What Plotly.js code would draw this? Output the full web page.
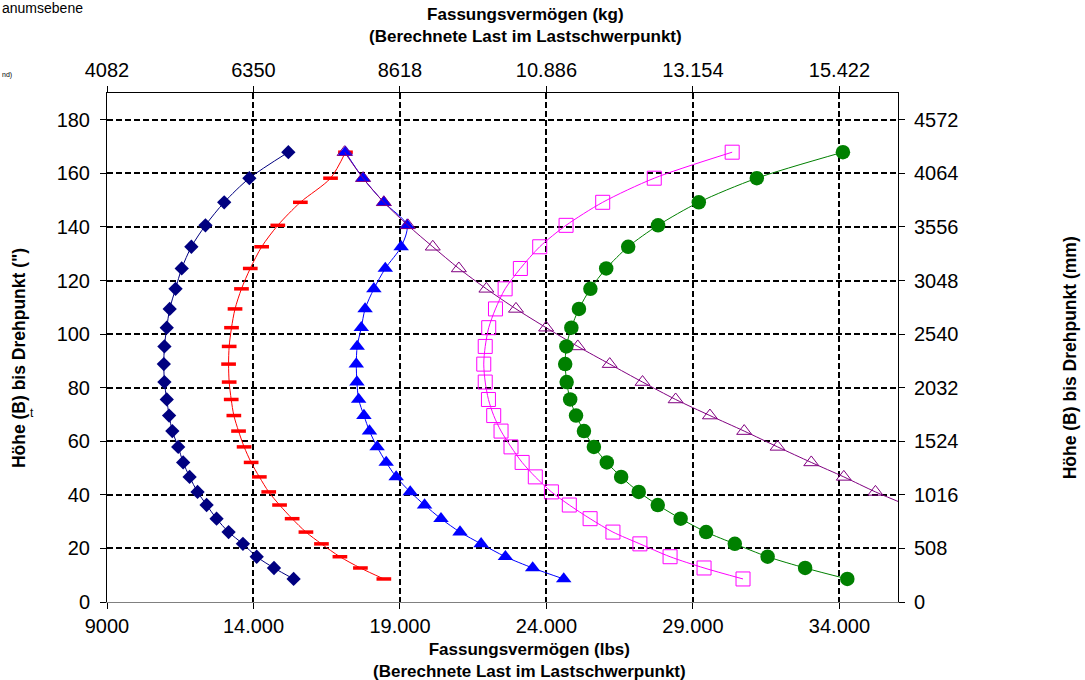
<!DOCTYPE html>
<html>
<head>
<meta charset="utf-8">
<script src="https://cdn.plot.ly/plotly-3.0.1.min.js"></script>
<style>html,body{margin:0;padding:0;background:#fff;}#chart{width:1085px;height:680px;}</style>
</head>
<body>
<div id="chart"></div>
<script>
// Heights (B) to pivot point, inches
const heights = [167.9, 158.2, 149.2, 140.6, 132.6, 124.5, 116.9, 109.4, 102.4, 95.4, 88.8, 82.1, 75.6, 69.6, 63.8, 57.9, 52.1, 46.7, 41.1, 36.2, 31.1, 26.1, 21.7, 16.9, 12.7, 8.6];

// Capacities (lbs) per series
const navyCapacity = [15190, 13860, 13000, 12360, 11880, 11550, 11340, 11140, 11040, 10960, 10940, 10960, 11040, 11120, 11230, 11430, 11600, 11820, 12090, 12400, 12740, 13150, 13640, 14110, 14700, 15370];
const redCapacity = [17140, 16630, 15600, 14830, 14280, 13890, 13590, 13370, 13250, 13170, 13150, 13170, 13240, 13330, 13490, 13680, 13920, 14200, 14520, 14890, 15320, 15790, 16320, 16950, 17650, 18450];
const blueCapacity = [17140, 17740, 18450, 19240, 19040, 18500, 18110, 17810, 17680, 17540, 17510, 17530, 17590, 17770, 17960, 18220, 18530, 18870, 19350, 19840, 20400, 21050, 21770, 22600, 23530, 24590];
const purpleCapacity = [17110, 17740, 18450, 19270, 20120, 21010, 21950, 22960, 23990, 25070, 26160, 27280, 28410, 29580, 30750, 31890, 33040, 34150, 35230, 36300];
const magentaCapacity = [30340, 27680, 25920, 24670, 23770, 23110, 22590, 22260, 22030, 21910, 21860, 21910, 22020, 22200, 22450, 22790, 23170, 23620, 24170, 24780, 25490, 26270, 27190, 28220, 29380, 30710];
const greenCapacity = [34120, 31180, 29200, 27810, 26790, 26040, 25500, 25110, 24850, 24680, 24640, 24690, 24810, 25010, 25280, 25620, 26060, 26550, 27150, 27800, 28580, 29450, 30430, 31550, 32830, 34270];

// Axis ticks
const lbsTickVals = [9000, 14000, 19000, 24000, 29000, 34000];
const lbsTickText = ["9000", "14.000", "19.000", "24.000", "29.000", "34.000"];
const kgTickText = ["4082", "6350", "8618", "10.886", "13.154", "15.422"];
const inchTickVals = [0, 20, 40, 60, 80, 100, 120, 140, 160, 180];
const mmTickText = ["0", "508", "1016", "1524", "2032", "2540", "3048", "3556", "4064", "4572"];

const LB2KG = 0.45359237, IN2MM = 25.4;
const xRange = [9000, 36000];
const yRange = [0, 190];

const FONT = "'Liberation Sans', Arial, sans-serif";

function series(xs, color, symbol, size, opts) {
  opts = opts || {};
  const marker = {symbol: symbol, size: size, color: color,
    line: {color: color, width: opts.mlw !== undefined ? opts.mlw : 0}};
  return {
    type: 'scatter', mode: 'lines+markers',
    x: xs, y: heights.slice(0, xs.length),
    line: {color: color, width: 1, shape: 'spline', smoothing: 0.8},
    marker: marker, showlegend: false, hoverinfo: 'x+y'
  };
}

const traces = [
  series(navyCapacity, '#000080', 'diamond', 11),
  series(redCapacity, '#FF0000', 'line-ew', 10.5, {mlw: 3.5}),
  series(blueCapacity, '#0000FF', 'triangle-up', 13.5),
  series(purpleCapacity, '#800080', 'triangle-up-open', 13, {mlw: 1}),
  series(magentaCapacity, '#FF00FF', 'square-open', 14, {mlw: 1}),
  series(greenCapacity, '#008000', 'circle', 14.5),
  {type: 'scatter', mode: 'markers', x: [], y: [], xaxis: 'x2', yaxis: 'y2', showlegend: false, hoverinfo: 'skip'}
];

const gridCommon = {showgrid: true, gridcolor: '#000000', gridwidth: 2, griddash: '6px,3px'};
const TICKFONT = {size: 20, family: FONT, color: '#000'};
const TITLEFONT = {size: 17, family: FONT, color: '#000'};
const YTITLEFONT = {size: 17.5, family: FONT, color: '#000'};

const layout = {
  width: 1085, height: 680,
  margin: {l: 107, r: 187, t: 93, b: 78, pad: 0},
  paper_bgcolor: '#ffffff', plot_bgcolor: '#ffffff',
  font: {family: FONT, color: '#000000', size: 20},
  showlegend: false,
  xaxis: Object.assign({
    range: xRange, tickmode: 'array', tickvals: lbsTickVals, ticktext: lbsTickText,
    showline: true, linecolor: '#808080', linewidth: 1,
    ticks: 'outside', ticklen: 6, tickcolor: '#000000', tickwidth: 1,
    zeroline: false, tickfont: TICKFONT, ticklabelstandoff: 0
  }, gridCommon),
  xaxis2: {
    overlaying: 'x', side: 'top', anchor: 'y',
    range: [xRange[0] * LB2KG, xRange[1] * LB2KG], tickmode: 'array',
    tickvals: lbsTickVals.map(v => v * LB2KG), ticktext: kgTickText,
    showline: true, linecolor: '#000000', linewidth: 1,
    ticks: 'outside', ticklen: 6, tickcolor: '#000000',
    showgrid: false, zeroline: false, tickfont: TICKFONT, ticklabelstandoff: 1
  },
  yaxis: Object.assign({
    range: yRange, tickmode: 'array', tickvals: inchTickVals,
    showline: true, linecolor: '#000000', linewidth: 1,
    ticks: 'outside', ticklen: 6, tickcolor: '#000000',
    zeroline: false, tickfont: TICKFONT, ticklabelstandoff: 6
  }, gridCommon),
  yaxis2: {
    overlaying: 'y', side: 'right', anchor: 'x',
    range: [yRange[0] * IN2MM, yRange[1] * IN2MM], tickmode: 'array',
    tickvals: inchTickVals.map(v => v * IN2MM), ticktext: mmTickText,
    showline: true, linecolor: '#000000', linewidth: 1,
    ticks: 'outside', ticklen: 6, tickcolor: '#000000',
    showgrid: false, zeroline: false, tickfont: TICKFONT, ticklabelstandoff: 5
  },
  annotations: [
    {xref: 'paper', yref: 'paper', x: (525 - 107) / 791, y: 1.132, xanchor: 'center', yanchor: 'middle', showarrow: false,
     text: '<b>Fassungsvermögen (kg)<br>(Berechnete Last im Lastschwerpunkt)</b>', font: TITLEFONT},
    {xref: 'paper', yref: 'paper', x: (529 - 107) / 791, y: -0.1153, xanchor: 'center', yanchor: 'middle', showarrow: false,
     text: '<b>Fassungsvermögen (lbs)<br>(Berechnete Last im Lastschwerpunkt)</b>', font: TITLEFONT},
    {xref: 'paper', yref: 'paper', x: -0.112, y: 0.48, xanchor: 'center', yanchor: 'middle', showarrow: false, textangle: -90,
     text: '<b>Höhe (B) bis Drehpunkt (")</b>', font: YTITLEFONT},
    {xref: 'paper', yref: 'paper', x: 1.217, y: 0.48, xanchor: 'center', yanchor: 'middle', showarrow: false, textangle: -90,
     text: '<b>Höhe (B) bis Drehpunkt (mm)</b>', font: YTITLEFONT},
    {xref: 'paper', yref: 'paper', x: -0.1348, y: 1.1676, xanchor: 'left', yanchor: 'middle', showarrow: false,
     text: 'anumsebene', font: {size: 14, family: FONT, color: '#000'}},
    {xref: 'paper', yref: 'paper', x: -0.1348, y: 1.036, xanchor: 'left', yanchor: 'middle', showarrow: false,
     text: 'nd)', font: {size: 7, family: FONT, color: '#000'}},
    {xref: 'paper', yref: 'paper', x: -0.1, y: 0.372, xanchor: 'left', yanchor: 'middle', showarrow: false,
     text: 't', font: {size: 12, family: FONT, color: '#000'}}
  ]
};

Plotly.newPlot('chart', traces, layout, {staticPlot: true, displayModeBar: false});
</script>
</body>
</html>
